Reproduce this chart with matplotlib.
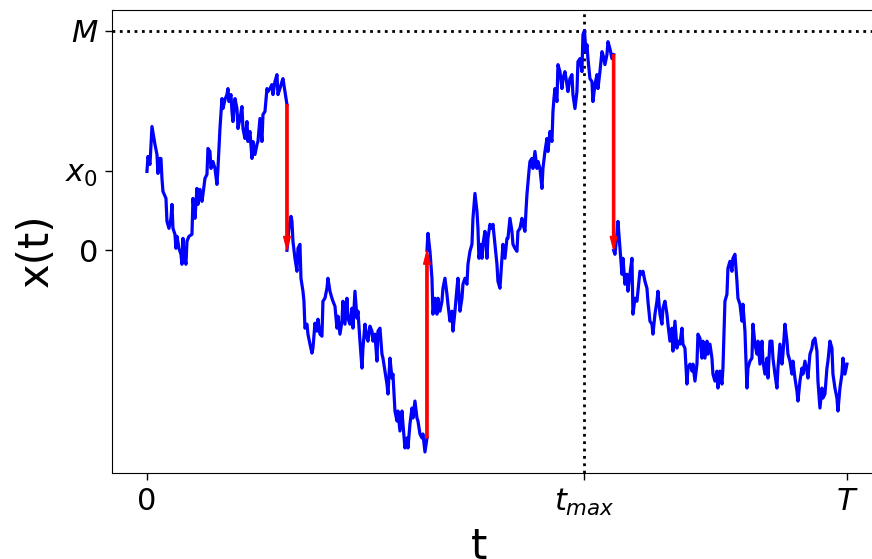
import matplotlib
matplotlib.use("Agg")
import matplotlib.pyplot as plt

# time in steps (T = 700), position in the same units (x0 = 79, M = 220)
T = 700
t_max = 437.5
x0 = 79
M = 220

# segment 1: start at x0 until the first reset
t1 = [0, 1, 3, 5, 8, 10, 11, 12, 14, 15, 16, 19, 20, 22, 24, 25, 26, 28, 29, 30,
      32, 34, 35, 36, 37, 39, 40, 42, 45, 46, 47, 48, 50, 51, 53, 55, 56, 58, 60, 61,
      63, 64, 66, 68, 70, 71, 73, 75, 76, 78, 80, 81, 82, 84, 85, 86, 88, 90, 91, 93,
      95, 96, 98, 100, 101, 103, 105, 106, 108, 110, 111, 113, 115, 116, 118, 120, 121, 123, 125, 126,
      128, 130, 131, 133, 135, 136, 138, 140]
x1 = [79, 94, 86, 124, 106, 96, 77, 92, 92, 72, 59, 52, 29, 22, 32, 46, 22, 16, 2, 14,
      2, -4, -14, 12, -4, -14, 9, 14, 16, 52, 42, 32, 62, 46, 61, 49, 56, 72, 76, 102,
      99, 82, 89, 82, 66, 82, 122, 152, 142, 151, 156, 162, 149, 156, 139, 129, 152, 142, 122, 132,
      144, 122, 112, 129, 109, 119, 92, 109, 96, 106, 109, 132, 109, 136, 139, 162, 159, 162, 166, 156,
      169, 176, 156, 162, 169, 172, 159, 146]

# segment 2: after the first reset
t2 = [140, 142, 144, 145, 146, 148, 150, 151, 153, 154, 156, 157, 158, 160, 161, 163, 165, 166, 168, 170,
      171, 173, 175, 176, 178, 180, 181, 183, 185, 186, 188, 190, 191, 193, 195, 196, 198, 200, 201, 203,
      205, 206, 208, 210, 211, 213, 215, 216, 218, 220, 221, 223, 225, 226, 228, 230, 231, 233, 235, 236,
      238, 240, 241, 243, 245, 246, 248, 250, 251, 253, 255, 256, 258, 260, 261, 263, 265, 266, 268, 270,
      271, 273, 275, 276, 278, 280]
x2 = [0, 22, 34, 29, 9, -8, -21, 2, 6, -28, -41, -51, -78, -74, -84, -94, -103, -98, -73, -81,
      -69, -84, -86, -51, -48, -38, -28, -41, -48, -51, -56, -78, -66, -84, -71, -51, -74, -48, -68, -74,
      -58, -78, -41, -68, -61, -91, -118, -98, -74, -88, -91, -76, -81, -91, -84, -111, -81, -78, -104, -108,
      -121, -134, -144, -108, -128, -124, -161, -171, -161, -181, -161, -174, -198, -188, -198, -174, -158, -168, -151, -168,
      -171, -184, -188, -184, -202, -188]

# segment 3: after the second reset, reaches M at t_max
t3 = [280, 281, 283, 285, 286, 288, 290, 291, 293, 295, 296, 298, 300, 301, 303, 305, 306, 308, 310, 311,
      313, 315, 316, 318, 320, 321, 323, 325, 326, 328, 330, 331, 332, 334, 335, 336, 338, 340, 341, 343,
      345, 346, 348, 350, 351, 353, 355, 356, 358, 360, 361, 363, 365, 366, 368, 370, 371, 373, 375, 376,
      378, 379, 380, 382, 383, 385, 386, 388, 390, 391, 393, 395, 396, 398, 400, 401, 403, 405, 406, 407,
      408, 410, 411, 413, 415, 416, 418, 420, 421, 423, 425, 426, 428, 430, 431, 433, 435, 436, 437.5, 439,
      440, 441, 443, 445, 446, 448, 450, 451, 453, 455, 456, 458, 460, 461, 463, 465, 466.7]
x3 = [0, 17, -1, -28, -64, -48, -64, -48, -61, -51, -38, -28, -44, -54, -71, -61, -81, -61, -38, -28,
      -61, -48, -34, -28, -34, -14, -1, 6, 32, 57, 39, 22, -8, 6, -8, 6, 19, -8, 12, 26,
      22, 26, 6, -14, -31, -38, -8, 6, -8, 12, 12, 32, 19, 6, 2, -1, 19, 22, 32, 26,
      19, 39, 56, 79, 89, 92, 82, 99, 82, 89, 82, 62, 82, 99, 112, 99, 119, 109, 139, 152,
      162, 149, 186, 179, 162, 172, 179, 166, 159, 172, 176, 156, 142, 159, 189, 192, 179, 216, 220, 199,
      206, 192, 172, 169, 149, 166, 176, 162, 179, 199, 196, 186, 196, 209, 202, 192, 196]

# segment 4: after the third reset until T
t4 = [466.7, 468, 470, 471, 473, 475, 476, 478, 480, 481, 483, 485, 486, 488, 490, 491, 493, 495, 496, 498,
      500, 501, 503, 505, 506, 508, 510, 511, 513, 515, 516, 518, 520, 521, 523, 525, 526, 528, 530, 531,
      533, 535, 536, 538, 540, 541, 543, 545, 546, 548, 550, 551, 553, 555, 556, 558, 560, 561, 563, 565,
      566, 568, 570, 571, 573, 575, 576, 578, 580, 581, 583, 585, 586, 588, 590, 591, 593, 595, 596, 598,
      600, 601, 603, 605, 606, 608, 610, 611, 613, 615, 616, 618, 620, 621, 623, 625, 626, 628, 630, 631,
      633, 635, 636, 638, 640, 641, 643, 645, 646, 648, 650, 651, 653, 655, 656, 658, 660, 661, 663, 665,
      666, 668, 670, 671, 673, 675, 676, 678, 680, 681, 683, 685, 686, 688, 690, 691, 693, 695, 696, 698,
      700]
x4 = [0, -4, 16, 29, 2, -24, -8, -34, -24, -41, -24, -8, -64, -48, -51, -41, -21, -24, -21, -31,
      -38, -51, -71, -74, -84, -64, -51, -41, -64, -74, -58, -51, -64, -74, -91, -78, -101, -71, -98, -91,
      -94, -78, -94, -98, -134, -118, -114, -121, -114, -131, -114, -84, -88, -108, -91, -108, -91, -104, -94, -108,
      -124, -131, -121, -138, -121, -134, -118, -51, -44, -18, -11, -21, -8, -4, -31, -48, -54, -71, -54, -81,
      -138, -118, -111, -108, -74, -94, -104, -91, -114, -91, -111, -124, -108, -128, -91, -91, -108, -124, -138, -118,
      -94, -114, -104, -74, -91, -104, -111, -124, -111, -128, -141, -151, -131, -118, -124, -111, -121, -128, -104, -98,
      -91, -88, -101, -131, -158, -138, -148, -144, -118, -111, -91, -98, -124, -138, -148, -161, -138, -124, -108, -124,
      -114]

segments = [(t1, x1), (t2, x2), (t3, x3), (t4, x4)]

fig = plt.figure(figsize=(8.72, 5.59), dpi=100)
ax = fig.add_axes([0.1284, 0.1538, 0.883, 0.829])

for t, x in segments:
    ax.plot(t, x, color='blue', lw=2.3, zorder=2)

# resets back to the origin
for t, x in segments[:-1]:
    ax.arrow(t[-1], x[-1], 0, -x[-1], width=2.5, head_width=7, head_length=14,
             length_includes_head=True, color='red', lw=0.8, zorder=3)

ax.axhline(M, color='black', ls=':', lw=2, zorder=1)
ax.axvline(t_max, color='black', ls=':', lw=2, zorder=1)

ax.set_xticks([0, t_max, T])
ax.set_xticklabels(['0', '$t_{max}$', '$T$'])
ax.set_yticks([0, x0, M])
ax.set_yticklabels(['0', '$x_0$', '$M$'])
ax.tick_params(labelsize=22, length=5, width=1, pad=5)

ax.set_xlabel('t', fontsize=30, labelpad=6, x=0.477)
ax.set_ylabel('x(t)', fontsize=30, labelpad=6, y=0.48)

fig.savefig('out.png', dpi=100)
